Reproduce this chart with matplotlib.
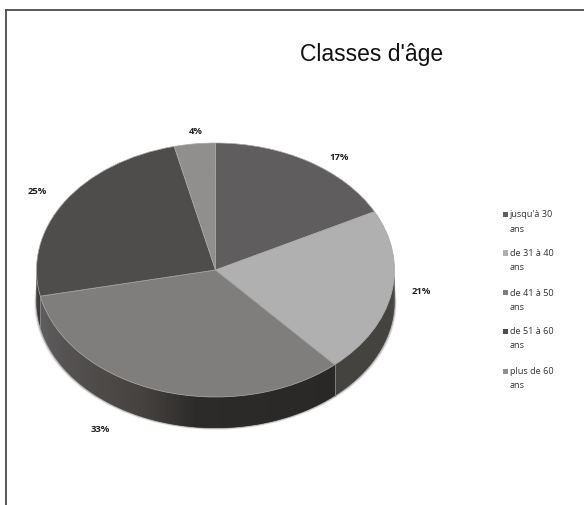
import numpy as np
import matplotlib.pyplot as plt
from matplotlib.colors import to_rgb
from matplotlib.patches import Ellipse, Rectangle

W, H = 584, 506

# Data
categories = ["jusqu'à 30", "de 31 à 40", "de 41 à 50", "de 51 à 60", "plus de 60"]
values = [17.4, 21, 33.3, 24.6, 3.7]
pct_labels = ["17%", "21%", "33%", "25%", "4%"]
colors = ["#5f5d5d", "#b0b0b0", "#7f7e7c", "#4f4d4b", "#918f8e"]

# Layout in pixels of the picture
cx, cy, rx, ry = 215.5, 271, 179, 127
wall = 31 / ry
label_pos = [(339, 158), (421, 292), (100, 430), (37, 192), (196, 131)]
legend_y = [215, 254, 293, 332, 372]


def lerp(c1, c2, t):
    a, b = to_rgb(c1), to_rgb(c2)
    return tuple(a[i] + (b[i] - a[i]) * t for i in range(3))


fig = plt.figure(figsize=(W / 100, H / 100), dpi=100, facecolor="white")

# Frame: only the top and left lines
fig.add_artist(plt.Line2D([1, 5.5 / W], [1 - 10.5 / H, 1 - 10.5 / H], color="#4a4a4a", lw=1.3))
fig.add_artist(plt.Line2D([5.5 / W, 5.5 / W], [0, 1 - 10.5 / H], color="#4a4a4a", lw=1.3))

# Pie axes squashed to the ellipse
ax = fig.add_axes([(cx - rx) / W, 1 - (cy + ry) / H, 2 * rx / W, 2 * ry / H])
wedges, _ = ax.pie(values, colors=colors, startangle=90, counterclock=False, radius=1,
                   wedgeprops=dict(edgecolor="#a8a8a8", linewidth=0.5, zorder=5))
ax.set_aspect("auto")
ax.set_xlim(-1, 1)
ax.set_ylim(-1, 1)
for w in wedges:
    w.set_clip_on(False)

# Soft shadow under the wall
for off, a in [(3.0, 0.15), (2.2, 0.25), (1.2, 0.45)]:
    s = Ellipse((0, -wall - off / ry * 0.6), 2 + off / rx * 1.4, 2, color="#777777", alpha=a,
                lw=0, zorder=1, clip_on=False)
    ax.add_patch(s)

# Side wall, each strip overlaps the next one so no gaps show
theta = np.linspace(0, -180, 181)
for t0 in theta[:-1]:
    t1 = max(t0 - 2, -180)
    frac = ((90 - (t0 - 0.5)) % 360) / 3.6
    if frac < 38.4:
        col = "#454340"
    elif frac < 71.7:
        t = (frac - 38.4) / (71.7 - 38.4)
        if t < 0.4:
            col = lerp("#2a2826", "#2d2b2a", t / 0.4)
        elif t < 0.55:
            col = lerp("#2d2b2a", "#45423f", (t - 0.4) / 0.15)
        else:
            col = lerp("#45423f", "#605e5f", (t - 0.55) / 0.45)
    else:
        col = "#3c3a38"
    arc = np.radians(np.linspace(t0, t1, 5))
    xs = np.cos(arc)
    ys = np.sin(arc)
    ax.fill(np.r_[xs, xs[::-1]], np.r_[ys, ys[::-1] - wall], color=col, lw=0,
            zorder=2, clip_on=False)

# Light edge between the walls of two slices
for frac in [38.4, 71.7]:
    ang = np.radians(90 - 3.6 * frac)
    ax.plot([np.cos(ang)] * 2, [np.sin(ang), np.sin(ang) - wall], color="#8c8c8c", lw=0.6,
            zorder=3, clip_on=False)

# Percent labels
for (px, py), txt in zip(label_pos, pct_labels):
    fig.text(px / W, 1 - py / H, txt, ha="center", va="center", fontsize=6.8,
             fontweight="bold", family="Open Sans", color="#222222")

fig.text(371.5 / W, 1 - 55 / H, "Classes d'âge", ha="center", va="center", fontsize=16.5,
         family="Liberation Sans", color="#111111")

# Legend
for y, name, col in zip(legend_y, categories, colors):
    fig.add_artist(Rectangle((502.5 / W, 1 - (y + 2.5) / H), 5 / W, 5 / H, color=col, lw=0,
                             transform=fig.transFigure))
    fig.text(510 / W, 1 - y / H, name, ha="left", va="center", fontsize=6.6,
             family="Open Sans", color="#333333")
    fig.text(510 / W, 1 - (y + 14) / H, "ans", ha="left", va="center", fontsize=6.6,
             family="Open Sans", color="#333333")

fig.savefig("out.png", dpi=100)
